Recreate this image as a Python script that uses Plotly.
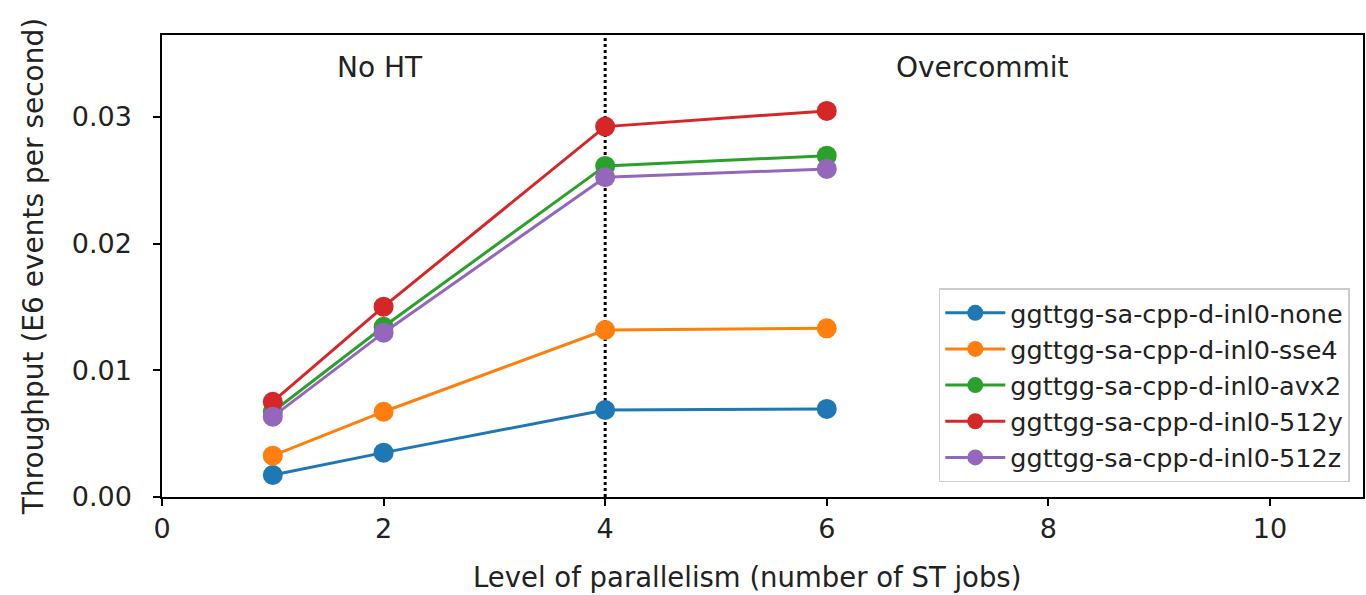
import plotly.graph_objects as go

x_jobs = [1, 2, 4, 6]
series_names = [
    "ggttgg-sa-cpp-d-inl0-none",
    "ggttgg-sa-cpp-d-inl0-sse4",
    "ggttgg-sa-cpp-d-inl0-avx2",
    "ggttgg-sa-cpp-d-inl0-512y",
    "ggttgg-sa-cpp-d-inl0-512z",
]
vals_none = [0.00174, 0.00350, 0.00687, 0.00695]
vals_sse4 = [0.00326, 0.00673, 0.01318, 0.01331]
vals_avx2 = [0.00673, 0.01344, 0.02613, 0.02694]
vals_512y = [0.00752, 0.01502, 0.02923, 0.03047]
vals_512z = [0.00634, 0.01297, 0.02523, 0.02589]
colors = ["#1f77b4", "#ff7f0e", "#2ca02c", "#d62728", "#9467bd"]
x_ticks = [0, 2, 4, 6, 8, 10]
y_ticks = [0.0, 0.01, 0.02, 0.03]
y_tick_labels = ["0.00", "0.01", "0.02", "0.03"]

fig = go.Figure()
for name, vals, c in zip(series_names, [vals_none, vals_sse4, vals_avx2, vals_512y, vals_512z], colors):
    fig.add_trace(go.Scatter(
        x=x_jobs, y=vals, name=name, mode="lines+markers",
        line=dict(color=c, width=3),
        marker=dict(color=c, size=20),
    ))

fig.add_shape(type="line", x0=4, x1=4, y0=0, y1=1, xref="x", yref="paper",
              line=dict(color="black", width=3, dash="dot"), layer="below")

fig.add_annotation(x=1.97, y=0.03386, text="No HT", showarrow=False,
                   font=dict(size=28, color="#222", family="DejaVu Sans"))
fig.add_annotation(x=7.41, y=0.03386, text="Overcommit", showarrow=False,
                   font=dict(size=28, color="#222", family="DejaVu Sans"))
fig.add_annotation(x=0.487, y=-0.173, xref="paper", yref="paper",
                   xanchor="center", yanchor="middle",
                   text="Level of parallelism (number of ST jobs)", showarrow=False,
                   font=dict(size=27.5, color="#222", family="DejaVu Sans"))

fig.update_layout(
    width=1366, height=595,
    margin=dict(l=162, r=1, t=35, b=98),
    paper_bgcolor="white", plot_bgcolor="white",
    font=dict(family="DejaVu Sans", color="#222", size=27),
    showlegend=True,
    legend=dict(
        x=0.989, y=0.032, xanchor="right", yanchor="bottom",
        bordercolor="#cccccc", borderwidth=1.5, bgcolor="rgba(255,255,255,0.8)",
        font=dict(size=25.5, family="DejaVu Sans", color="#222"),
        itemwidth=60, tracegroupgap=0,
    ),
    xaxis=dict(
        range=[0, 10.84], tickvals=x_ticks, ticks="outside", ticklen=7, tickwidth=1.5,
        tickcolor="black", showline=True, linecolor="black", linewidth=1.5, mirror=True,
        showgrid=False, zeroline=False,
        tickfont=dict(size=27),
    ),
    yaxis=dict(
        range=[0, 0.03646], tickvals=y_ticks, ticktext=y_tick_labels, ticks="outside", ticklen=7,
        tickwidth=1.5, tickcolor="black", showline=True, linecolor="black", linewidth=1.5,
        mirror=True, showgrid=False, zeroline=False, ticklabelstandoff=16,
        title=dict(text="Throughput (E6 events per second)", font=dict(size=28), standoff=20),
        tickfont=dict(size=27),
    ),
)

fig.write_html("out.html")
